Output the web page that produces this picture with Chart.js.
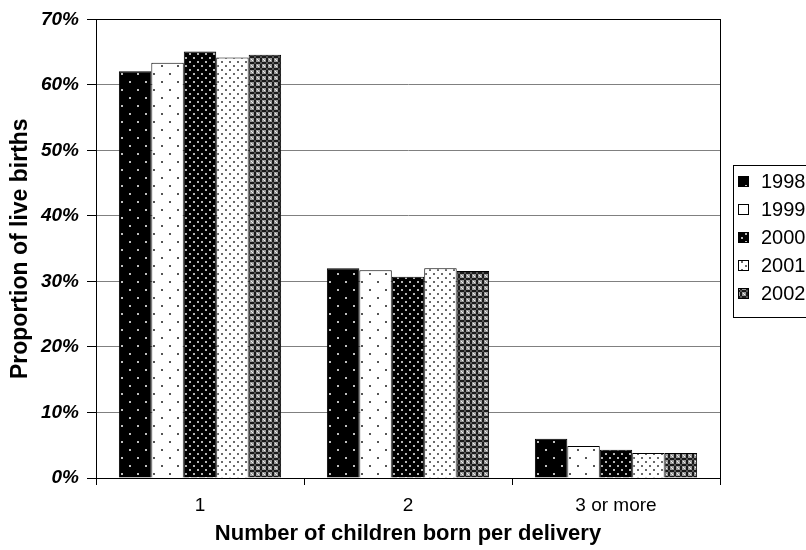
<!DOCTYPE html>
<html>
<head>
<meta charset="utf-8">
<script src="https://cdn.jsdelivr.net/npm/chart.js@4/dist/chart.umd.min.js"></script>
<style>
  html, body { margin: 0; padding: 0; background: #fff; }
  canvas { display: block; }
</style>
</head>
<body>
<canvas id="chart" width="806" height="550"></canvas>
<script>
// data (percent of live births)
const categories = ['1', '2', '3 or more']
const years = ['1998', '1999', '2000', '2001', '2002']
const v1998 = [62.1, 32.0, 6.0]
const v1999 = [63.4, 31.7, 4.9]
const v2000 = [65.1, 30.7, 4.3]
const v2001 = [64.2, 32.0, 3.8]
const v2002 = [64.6, 31.6, 3.8]
const yTicks = [0, 10, 20, 30, 40, 50, 60, 70]

const FONT = '"Liberation Sans", Arial, sans-serif'

// little tiles that mimic the old excel fill patterns
function dotPattern(bg, fg, step, dot) {
    const c = document.createElement('canvas')
    c.width = step * 2
    c.height = step * 2
    const g = c.getContext('2d')
    g.fillStyle = bg
    g.fillRect(0, 0, c.width, c.height)
    g.fillStyle = fg
    g.fillRect(1, 1, dot, dot)
    g.fillRect(step + 1, step + 1, dot, dot)
    return g.createPattern(c, 'repeat')
}

function crossPattern() {
    const c = document.createElement('canvas')
    c.width = 6
    c.height = 6
    const g = c.getContext('2d')
    g.fillStyle = '#9a9a9a'
    g.fillRect(0, 0, 6, 6)
    g.fillStyle = '#1a1a1a'
    g.fillRect(2, 0, 2, 6)
    g.fillRect(0, 2, 6, 2)
    g.fillStyle = '#f0f0f0'
    g.fillRect(0, 0, 1, 1)
    g.fillRect(5, 5, 1, 1)
    g.fillStyle = '#555'
    g.fillRect(2, 2, 2, 2)
    return g.createPattern(c, 'repeat')
}

const fills = [
    dotPattern('#000', '#c0c0c0', 8, 2),
    dotPattern('#fff', '#555', 8, 2),
    dotPattern('#000', '#b5b5b5', 4, 2),
    dotPattern('#fff', '#6a6a6a', 4, 2),
    crossPattern()
]

const seriesValues = [v1998, v1999, v2000, v2001, v2002]
const datasets = years.map((y, i) => ({
    label: y,
    data: seriesValues[i],
    backgroundColor: fills[i],
    borderColor: '#000',
    borderWidth: 1,
    categoryPercentage: 0.78,
    barPercentage: 1.0
}))

// frame round the plot + boxed legend at the right
const framePlugin = {
    id: 'frame',
    afterDraw(chart) {
        const ctx = chart.ctx
        const a = chart.chartArea
        ctx.save()
        ctx.strokeStyle = '#000'
        ctx.lineWidth = 1
        ctx.strokeRect(Math.round(a.left) + 0.5, Math.round(a.top) + 0.5,
            Math.round(a.right - a.left), Math.round(a.bottom - a.top))

        // legend
        const lx = 733, ly = 165, lh = 152
        ctx.strokeRect(lx + 0.5, ly + 0.5, 90, lh)
        ctx.font = '20px ' + FONT
        ctx.textBaseline = 'middle'
        chart.data.datasets.forEach((ds, i) => {
            const cy = ly + 16 + i * 28
            ctx.fillStyle = ds.backgroundColor
            ctx.fillRect(738, Math.round(cy - 5), 10, 10)
            ctx.strokeRect(738.5, Math.round(cy - 5) + 0.5, 10, 10)
            ctx.fillStyle = '#000'
            ctx.fillText(ds.label, 761, cy + 1)
        })
        ctx.restore()
    }
}

new Chart(document.getElementById('chart'), {
    type: 'bar',
    data: { labels: categories, datasets: datasets },
    options: {
        responsive: false,
        animation: false,
        layout: { padding: { top: 14, right: 86, left: 0, bottom: 0 } },
        plugins: {
            legend: { display: false },
            tooltip: { enabled: false }
        },
        scales: {
            x: {
                grid: {
                    offset: true,
                    drawOnChartArea: false,
                    color: '#000',
                    tickLength: 7
                },
                border: { color: '#000' },
                ticks: {
                    color: '#000',
                    padding: 9,
                    font: { family: FONT, size: 19 }
                },
                title: {
                    display: true,
                    text: 'Number of children born per delivery',
                    color: '#000',
                    padding: { top: 0, bottom: 3 },
                    font: { family: FONT, size: 22, weight: 'bold' }
                },
                afterFit(scale) { scale.height = 72 }
            },
            y: {
                min: 0,
                max: 70,
                afterBuildTicks(scale) {
                    scale.ticks = yTicks.map(v => ({ value: v }))
                },
                grid: {
                    color: '#808080',
                    tickColor: '#000',
                    tickLength: 9
                },
                border: { color: '#000' },
                ticks: {
                    color: '#000',
                    padding: 8,
                    font: { family: FONT, size: 19, weight: 'bold', style: 'italic' },
                    callback: v => v + '%'
                },
                title: {
                    display: true,
                    text: 'Proportion of live births',
                    color: '#000',
                    padding: { top: 7, bottom: 0 },
                    font: { family: FONT, size: 23, weight: 'bold' }
                },
                afterFit(scale) { scale.width = 96 }
            }
        }
    },
    plugins: [framePlugin]
})
</script>
</body>
</html>
